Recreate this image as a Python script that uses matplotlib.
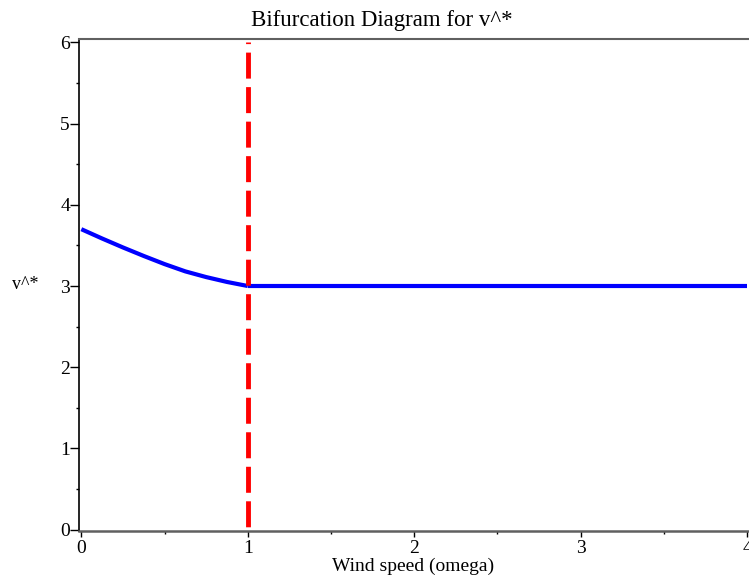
import matplotlib.pyplot as plt
from matplotlib.ticker import MultipleLocator

# curva estable para omega < 1
omega_curva = [0.0, 0.125, 0.25, 0.375, 0.5, 0.625, 0.75, 0.875, 1.0]
v_curva = [3.70, 3.585, 3.475, 3.37, 3.27, 3.18, 3.11, 3.05, 3.00]

# rama constante para omega >= 1
omega_plano = [1.0, 4.0]
v_plano = [3.0, 3.0]

# umbral de bifurcacion
omega_critico = 1.0
v_rango = [0.0, 6.0]

plt.rcParams['font.family'] = ['Liberation Serif', 'DejaVu Serif']

fig = plt.figure(figsize=(7.49, 5.80), dpi=100)
ax = fig.add_axes([79 / 749, 1 - 530.5 / 580, 669 / 749, 491.5 / 580])

ax.plot(omega_curva, v_curva, color='blue', linewidth=3, solid_capstyle='butt', zorder=2)
ax.plot(omega_plano, v_plano, color='blue', linewidth=3, solid_capstyle='butt', zorder=2)
ax.plot([omega_critico, omega_critico], v_rango[::-1], color='red', linewidth=3.5,
        linestyle=(5.02, (5.35, 1.75)), dash_capstyle='butt', zorder=3)

ax.set_xlim(-0.014, 4.005)
ax.set_ylim(-0.012, 6.043)

ax.xaxis.set_major_locator(MultipleLocator(1))
ax.xaxis.set_minor_locator(MultipleLocator(0.5))
ax.yaxis.set_major_locator(MultipleLocator(1))
ax.yaxis.set_minor_locator(MultipleLocator(0.5))
ax.tick_params(axis='y', which='major', length=6.5, width=1, labelsize=14, pad=0)
ax.tick_params(axis='x', which='major', length=4, width=1, labelsize=14, pad=3)
ax.tick_params(axis='both', which='minor', length=2.5, width=1)

# bordes estilo maple
ax.spines['right'].set_visible(False)
ax.spines['top'].set_color('#606060')
ax.spines['top'].set_linewidth(1.5)
ax.spines['bottom'].set_color('#606060')
ax.spines['bottom'].set_linewidth(1.8)
ax.spines['left'].set_color('black')
ax.spines['left'].set_linewidth(1.2)

ax.set_xlabel('Wind speed (omega)', fontsize=14, labelpad=0)
ax.set_ylabel('v^*', fontsize=13, rotation=0, ha='center', va='center')
ax.yaxis.set_label_coords(-0.08, 0.5)

fig.text(382 / 749, 1 - 26 / 580, 'Bifurcation Diagram for v^*', ha='center', va='baseline', fontsize=16.5)

fig.savefig('out.png', dpi=100)
